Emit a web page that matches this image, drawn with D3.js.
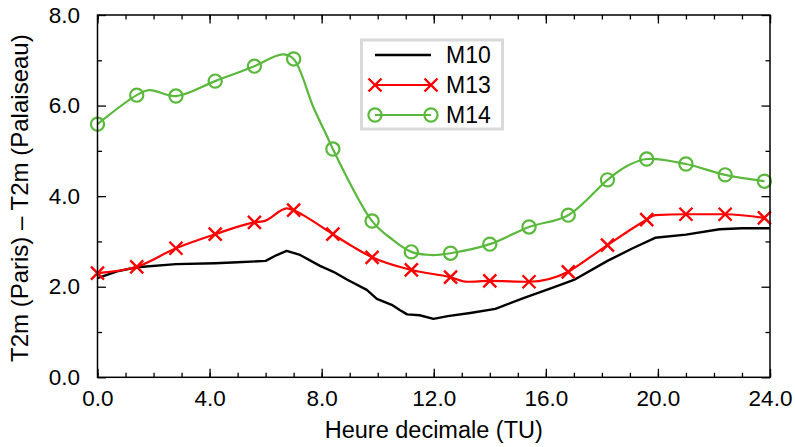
<!DOCTYPE html>
<html>
<head>
<meta charset="utf-8">
<script src="https://cdn.jsdelivr.net/npm/d3@7/dist/d3.min.js"></script>
<style>
  html, body { margin: 0; padding: 0; background: #ffffff; }
  svg { display: block; font-family: "Liberation Sans", Arial, Helvetica, sans-serif; }
</style>
</head>
<body>
<svg id="chart" width="795" height="447"></svg>
<script>
// ---------- data ----------
const seriesNames = ["M10", "M13", "M14"];
const xMajorTicks = [0, 4, 8, 12, 16, 20, 24];
const yMajorTicks = [0, 2, 4, 6, 8];
const xLabel = "Heure decimale (TU)";
const yLabel = "T2m (Paris) \u2013 T2m (Palaiseau)";

// hours at which markers are drawn
const markerHours = [0, 1.4, 2.8, 4.2, 5.6, 7.0, 8.4, 9.8, 11.2, 12.6, 14.0, 15.4, 16.8, 18.2, 19.6, 21.0, 22.4, 23.8];

// M10 (black, no markers)
const m10Hours  = [0, 0.7, 1.4, 2.8, 4.2, 5.0, 6.0, 6.4, 6.75, 7.2, 7.94, 8.42, 8.9, 9.61, 9.97, 10.5, 10.8, 11.05, 11.5, 11.99, 12.5, 13.3, 14.2, 15.2, 16.2, 17.0, 18.2, 19.1, 19.9, 21.0, 22.2, 23.0, 24.0];
const m10Values = [2.19, 2.34, 2.43, 2.50, 2.52, 2.54, 2.57, 2.70, 2.79, 2.71, 2.46, 2.33, 2.16, 1.93, 1.73, 1.60, 1.48, 1.39, 1.37, 1.29, 1.35, 1.42, 1.51, 1.75, 1.97, 2.15, 2.57, 2.85, 3.08, 3.15, 3.27, 3.29, 3.29];

// M13 (red, x markers)
const m13Hours  = [0, 1.4, 2.8, 4.2, 5.6, 6.0, 6.75, 7.0, 7.5, 8.4, 9.13, 9.8, 11.2, 12.6, 13.2, 14.0, 15.4, 16.8, 17.08, 18.2, 19.6, 19.9, 21.0, 22.4, 23.8];
const m13Values = [2.30, 2.44, 2.85, 3.16, 3.42, 3.46, 3.73, 3.69, 3.52, 3.16, 2.88, 2.65, 2.37, 2.21, 2.11, 2.13, 2.11, 2.33, 2.44, 2.92, 3.48, 3.58, 3.60, 3.60, 3.52];

// M14 (green, circle markers)
const m14Hours  = [0, 1.4, 1.85, 2.8, 4.2, 5.6, 6.6, 7.0, 7.7, 8.2, 8.4, 9.8, 10.55, 11.2, 11.9, 12.6, 14.0, 15.4, 16.8, 18.2, 18.85, 19.6, 21.0, 22.4, 23.8];
const m14Values = [5.59, 6.23, 6.34, 6.21, 6.54, 6.87, 7.13, 7.03, 5.97, 5.31, 5.04, 3.45, 3.03, 2.77, 2.70, 2.74, 2.94, 3.32, 3.58, 4.36, 4.65, 4.82, 4.71, 4.47, 4.33];

// ---------- layout ----------
const svg = d3.select("#chart");
const pLeft = 97.5, pRight = 770, pTop = 15, pBottom = 377.3;

const x = d3.scaleLinear().domain([0, 24]).range([pLeft, pRight]);
const y = d3.scaleLinear().domain([0, 8]).range([pBottom, pTop]);

const colors = { M10: "#000000", M13: "#ff0000", M14: "#5ab93c" };

const toPts = (hs, vs) => hs.map((h, i) => ({ h: h, v: vs[i] }));
const m10 = toPts(m10Hours, m10Values);
const m13 = toPts(m13Hours, m13Values);
const m14 = toPts(m14Hours, m14Values);

// ---------- axes (ticks inward on all 4 sides) ----------
const fontTick = 22.5;
const hourTicks = d3.range(0, 25, 1);
const yMinor = [1, 3, 5, 7];

function styleAxis(g) {
  g.select(".domain").remove();
  g.selectAll(".tick line").attr("stroke", "#000").attr("stroke-width", 1.3);
}

// minor ticks
svg.append("g").attr("transform", `translate(0,${pBottom})`)
  .call(d3.axisBottom(x).tickValues(hourTicks).tickSize(-4.5).tickFormat(""))
  .call(styleAxis);
svg.append("g").attr("transform", `translate(0,${pTop})`)
  .call(d3.axisTop(x).tickValues(hourTicks).tickSize(-4.5).tickFormat(""))
  .call(styleAxis);
svg.append("g").attr("transform", `translate(${pLeft},0)`)
  .call(d3.axisLeft(y).tickValues(yMinor).tickSize(-4.5).tickFormat(""))
  .call(styleAxis);
svg.append("g").attr("transform", `translate(${pRight},0)`)
  .call(d3.axisRight(y).tickValues(yMinor).tickSize(-4.5).tickFormat(""))
  .call(styleAxis);

// major ticks
const gxb = svg.append("g").attr("transform", `translate(0,${pBottom})`)
  .call(d3.axisBottom(x).tickValues(xMajorTicks).tickSize(-8.5).tickPadding(13).tickFormat(d3.format(".1f")))
  .call(styleAxis);
gxb.selectAll("text").attr("font-size", fontTick).attr("fill", "#000").attr("font-family", "Liberation Sans, Arial, sans-serif");

svg.append("g").attr("transform", `translate(0,${pTop})`)
  .call(d3.axisTop(x).tickValues(xMajorTicks).tickSize(-8.5).tickFormat(""))
  .call(styleAxis);

const gyl = svg.append("g").attr("transform", `translate(${pLeft},0)`)
  .call(d3.axisLeft(y).tickValues(yMajorTicks).tickSize(-8.5).tickPadding(17.5).tickFormat(d3.format(".1f")))
  .call(styleAxis);
gyl.selectAll("text").attr("font-size", fontTick).attr("fill", "#000").attr("font-family", "Liberation Sans, Arial, sans-serif");

svg.append("g").attr("transform", `translate(${pRight},0)`)
  .call(d3.axisRight(y).tickValues(yMajorTicks).tickSize(-8.5).tickFormat(""))
  .call(styleAxis);

// ---------- lines ----------
const lineLinear = d3.line().x(d => x(d.h)).y(d => y(d.v)).curve(d3.curveLinear);
const lineMono = d3.line().x(d => x(d.h)).y(d => y(d.v)).curve(d3.curveMonotoneX);
const lineSmooth = d3.line().x(d => x(d.h)).y(d => y(d.v)).curve(d3.curveCatmullRom.alpha(0.5));

const plot = svg.append("g");
plot.append("path").datum(m10).attr("d", lineLinear)
  .attr("fill", "none").attr("stroke", colors.M10).attr("stroke-width", 2.4).attr("stroke-linejoin", "round");
plot.append("path").datum(m13).attr("d", lineMono)
  .attr("fill", "none").attr("stroke", colors.M13).attr("stroke-width", 2.2).attr("stroke-linejoin", "round");
plot.append("path").datum(m14).attr("d", lineSmooth)
  .attr("fill", "none").attr("stroke", colors.M14).attr("stroke-width", 2.2).attr("stroke-linejoin", "round");

// ---------- markers ----------
const isMarker = d => markerHours.some(m => Math.abs(m - d.h) < 1e-6);
const xs = 6.5;
function crossPath(cx, cy) {
  return `M${cx - xs},${cy - xs}L${cx + xs},${cy + xs}M${cx - xs},${cy + xs}L${cx + xs},${cy - xs}`;
}
plot.selectAll("path.m13m").data(m13.filter(isMarker)).enter().append("path")
  .attr("class", "m13m")
  .attr("d", d => crossPath(x(d.h), y(d.v)))
  .attr("stroke", colors.M13).attr("stroke-width", 2.4).attr("fill", "none");
plot.selectAll("circle.m14m").data(m14.filter(isMarker)).enter().append("circle")
  .attr("class", "m14m")
  .attr("cx", d => x(d.h)).attr("cy", d => y(d.v)).attr("r", 6.6)
  .attr("stroke", colors.M14).attr("stroke-width", 2.2).attr("fill", "none");

// ---------- frame ----------
svg.append("rect").attr("x", pLeft).attr("y", pTop)
  .attr("width", pRight - pLeft).attr("height", pBottom - pTop)
  .attr("fill", "none").attr("stroke", "#000").attr("stroke-width", 1.5);

// ---------- axis titles ----------
svg.append("text").attr("x", (pLeft + pRight) / 2).attr("y", 438)
  .attr("text-anchor", "middle").attr("font-size", 23.5).attr("fill", "#000")
  .text(xLabel);
svg.append("text").attr("transform", `translate(28,${(pTop + pBottom) / 2 + 2}) rotate(-90)`)
  .attr("text-anchor", "middle").attr("font-size", 24).attr("fill", "#000")
  .text(yLabel);

// ---------- legend ----------
const leg = svg.append("g");
leg.append("rect").attr("x", 361.5).attr("y", 40).attr("width", 141).attr("height", 89)
  .attr("fill", "#fff").attr("stroke", "#dadada").attr("stroke-width", 3);
const rowY = [55, 85, 115];
const lx0 = 375, lx1 = 431;
seriesNames.forEach((name, i) => {
  const yy = rowY[i];
  leg.append("line").attr("x1", lx0).attr("x2", lx1).attr("y1", yy).attr("y2", yy)
    .attr("stroke", colors[name]).attr("stroke-width", name === "M10" ? 2.4 : 2.2);
  if (name === "M13") {
    [lx0, lx1].forEach(cx => leg.append("path").attr("d", crossPath(cx, yy))
      .attr("stroke", colors.M13).attr("stroke-width", 2.4).attr("fill", "none"));
  }
  if (name === "M14") {
    [lx0, lx1].forEach(cx => leg.append("circle").attr("cx", cx).attr("cy", yy).attr("r", 6.6)
      .attr("stroke", colors.M14).attr("stroke-width", 2.2).attr("fill", "none"));
  }
  leg.append("text").attr("x", 446).attr("y", yy).attr("dy", "0.36em")
    .attr("font-size", 23).attr("fill", "#000").text(name);
});
</script>
</body>
</html>
